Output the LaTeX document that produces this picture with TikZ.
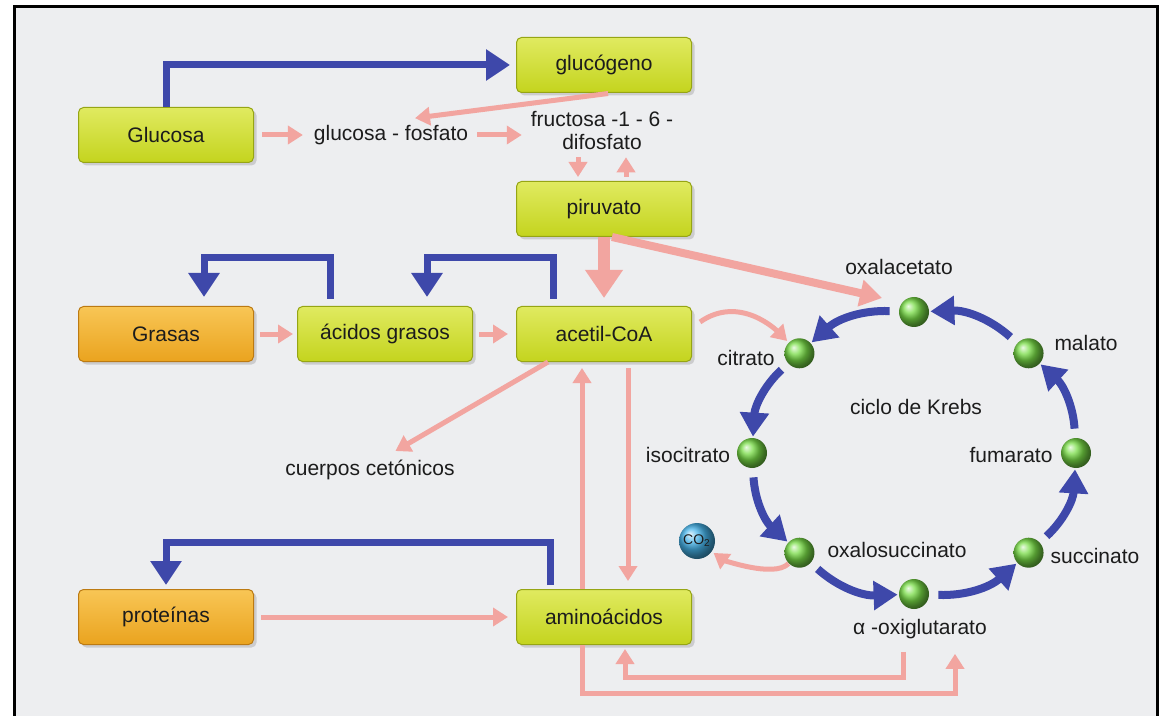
\documentclass[tikz,border=0pt]{standalone}
\usepackage{fontspec}
\setmainfont{Liberation Sans}
\usetikzlibrary{arrows.meta}
\usetikzlibrary{shadows}
\definecolor{fondo}{RGB}{237,238,240}
\definecolor{lima}{RGB}{196,212,30}
\definecolor{limaC}{RGB}{224,234,96}
\definecolor{limaO}{RGB}{150,165,20}
\definecolor{naranja}{RGB}{234,163,30}
\definecolor{naranjaC}{RGB}{248,198,86}
\definecolor{naranjaO}{RGB}{188,122,18}
\definecolor{azulado}{RGB}{62,72,170}
\definecolor{rosado}{RGB}{242,165,160}
\definecolor{verde}{RGB}{120,220,70}
\definecolor{celeste}{RGB}{70,180,235}
\definecolor{texto}{RGB}{28,28,28}

\begin{document}
\begin{tikzpicture}[x=0.5pt,y=-0.5pt,font=\fontsize{10.5}{11.5}\selectfont,text=texto,
  caja/.style={rounded corners=2.5pt,minimum width=87.5pt,minimum height=27.5pt,draw=limaO,line width=0.5pt,
    top color=limaC,bottom color=lima,drop shadow={opacity=0.3,shadow xshift=1.5pt,shadow yshift=-1.5pt}},
  cajanar/.style={caja,draw=naranjaO,top color=naranjaC,bottom color=naranja},
  rosa/.style={draw=rosado,line width=2.5pt,-{Triangle[length=7.5pt,width=9pt]}},
  gruesa/.style={draw=rosado,line width=6pt,-{Triangle[length=14pt,width=18pt]}},
  azul/.style={draw=azulado,line width=3.5pt,-{Triangle[length=12pt,width=15pt]}},
  ciclo/.style={draw=azulado,line width=4pt,-{Triangle[length=12pt,width=14pt]},shorten <=4.5pt,shorten >=0.5pt},
  bola/.style={circle,minimum size=15pt,inner sep=0pt,shading=ball,ball color=verde}]

\useasboundingbox (0,0) rectangle (1160,716);
\clip (0,0) rectangle (1160,716);
\fill[white] (0,0) rectangle (1160,716);
\draw[line width=1.5pt,fill=fondo] (14,7) rectangle (1157,740);

% cajas
\node[caja] (gluc) at (166,135) {Glucosa};
\node[caja] (glucog) at (604,65) {glucógeno};
\node[caja] (piru) at (604,209) {piruvato};
\node[cajanar] (gras) at (166,334) {Grasas};
\node[caja] (acgr) at (385,334) {ácidos grasos};
\node[caja] (acet) at (604,334) {acetil-CoA};
\node[cajanar] (prot) at (166,617) {proteínas};
\node[caja] (amino) at (604,617) {aminoácidos};

\node (gfos) at (391,135) {glucosa - fosfato};
\node[align=center] (fruc) at (602,131) {fructosa -1 - 6 -\\difosfato};
\node (cuer) at (370,470) {cuerpos cetónicos};

% ciclo de Krebs
\coordinate (ctr) at (914,453);
\foreach \n/\a in {oxal/90,citr/135,isoc/180,oxsu/225,oxgl/270,succ/315,fuma/360,mala/405}
  \node[bola] (\n) at ([shift={(-\a:162 and 141)}]ctr) {};
\foreach \a/\b in {oxal/citr,citr/isoc,isoc/oxsu,oxsu/oxgl,oxgl/succ,succ/fuma,fuma/mala,mala/oxal}
  \draw[ciclo] (\a) to[bend right=22] (\b);

\node (loxal) at (899,267) {oxalacetato};
\node (lcitr) at (746,358) {citrato};
\node (lisoc) at (688,455) {isocitrato};
\node (loxsu) at (897,550) {oxalosuccinato};
\node (loxgl) at (920,629) {α -oxiglutarato};
\node (lsucc) at (1095,556) {succinato};
\node (lfuma) at (1011,455) {fumarato};
\node (lmala) at (1086,343) {malato};
\node (lkrebs) at (916,407) {ciclo de Krebs};
\node[bola,minimum size=18pt,ball color=celeste,font=\fontsize{7}{7}\selectfont] (co2) at (697,541) {CO\textsubscript{2}};

% flechas azules
\draw[azul,shorten >=3pt] (gluc.north) |- (glucog.west);
\draw[azul,shorten <=3.5pt,shorten >=4.5pt] ([xshift=-27.5pt]acgr.north) -- ++(0,-48) -| ([xshift=19pt]gras.north);
\draw[azul,shorten <=3.5pt,shorten >=4.5pt] ([xshift=-25.5pt]acet.north) -- ++(0,-48) -| ([xshift=21pt]acgr.north);
\draw[azul,shorten <=2pt,shorten >=2pt] ([xshift=-27pt]amino.north) -- ++(0,-47) -| (prot.north);

% flechas rosas
\draw[rosa,shorten <=4pt,shorten >=2pt] (gluc) -- (gfos);
\draw[rosa,shorten <=1pt,shorten >=1pt] (gfos) -- (gfos -| fruc.west);
\draw[rosa,shorten <=2pt] ([xshift=4pt]glucog.south) -- ([xshift=12pt]gfos.north);
\draw[rosa,shorten >=2pt] ([xshift=-12pt]fruc.south) -- ([xshift=-12pt]fruc.south |- piru.north);
\draw[rosa,shorten <=2pt] ([xshift=12pt]fruc.south |- piru.north) -- ([xshift=12pt]fruc.south);
\draw[gruesa,shorten >=4pt] (piru.south) -- (acet.north);
\draw[rosa,line width=4pt,-{Triangle[length=11pt,width=13pt]}] ([xshift=4pt]piru.south) -- ([shift={(-32,-14)}]oxal.center);
\draw[rosa,shorten <=3pt,shorten >=2pt] (gras) -- (acgr);
\draw[rosa,shorten <=3pt,shorten >=4pt] (acgr) -- (acet);
\draw[rosa,shorten >=1pt] ([shift={(8,-12)}]acet.east) .. controls +(40,-28) and +(-22,-22) .. (citr);
\draw[rosa,shorten >=2pt] ([xshift=-28pt]acet.south) -- ([xshift=11pt]cuer.north);
\draw[rosa,shorten >=3pt] ([xshift=-11pt]amino.north) -- ([xshift=-11pt]acet.south);
\draw[rosa,shorten <=3pt,shorten >=4pt] ([xshift=12pt]acet.south) -- ([xshift=12pt]amino.north);
\draw[rosa,shorten <=3.5pt,shorten >=4pt] (prot) -- (amino);
\draw[rosa,shorten >=1pt] (oxsu.south west) .. controls +(-15,15) and +(25,18) .. (co2);
\draw[rosa,shorten <=3pt,shorten >=2pt] ([xshift=-8.5pt]loxgl.south) -- ++(0,32) -| ([xshift=10.5pt]amino.south);
\draw[rosa,shorten >=4pt] ([xshift=-11pt]amino.south) -- ++(0,48) -| ([xshift=17.5pt]loxgl.south);

\end{tikzpicture}
\end{document}
